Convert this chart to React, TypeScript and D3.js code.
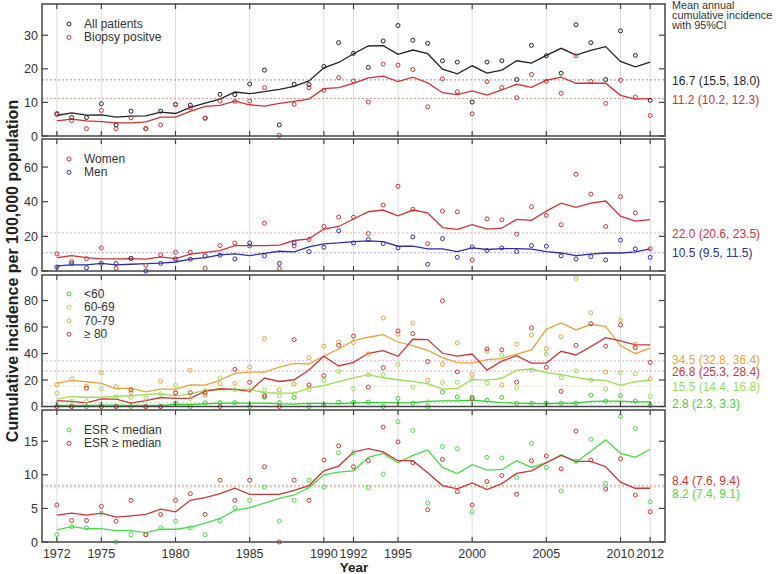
import * as d3 from 'd3'

// years 1972–2012
const years = [1972, 1973, 1974, 1975, 1976, 1977, 1978, 1979, 1980, 1981, 1982, 1983, 1984, 1985, 1986, 1987, 1988, 1989, 1990, 1991, 1992, 1993, 1994, 1995, 1996, 1997, 1998, 1999, 2000, 2001, 2002, 2003, 2004, 2005, 2006, 2007, 2008, 2009, 2010, 2011, 2012]
const yearTicks = [1972, 1975, 1980, 1985, 1990, 1992, 1995, 2000, 2005, 2010, 2012]

// panel 1: all / biopsy positive
const allPts = [6.5, 5.5, 5.5, 9.6, 3.3, 7.4, 2.2, 7.4, 9.4, 9.2, 5.3, 12.4, 12.3, 15.5, 19.6, 3.3, 15.4, 15.3, 20.7, 27.8, 24.6, 20.4, 28.3, 32.9, 28.5, 27.6, 22.4, 22.0, 10.1, 22.0, 22.4, 16.8, 27.0, 23.9, 18.7, 33.1, 27.8, 16.8, 31.3, 24.0, 10.6]
const allLine = [6.1, 6.9, 6.2, 6.3, 5.6, 5.9, 6.0, 7.1, 6.7, 8.5, 9.8, 11.0, 13.1, 12.6, 13.2, 13.9, 14.8, 16.4, 20.3, 21.9, 24.5, 26.8, 26.9, 24.3, 25.6, 24.5, 19.9, 18.5, 20.9, 18.7, 19.6, 22.4, 21.7, 24.0, 26.1, 24.1, 25.5, 26.6, 22.2, 20.6, 22.0]
const bioPts = [6.7, 4.6, 2.2, 7.6, 2.2, 5.4, 2.2, 3.3, 9.4, 8.4, 5.3, 10.4, 10.3, 10.4, 14.4, 0.2, 9.4, 14.4, 13.6, 17.4, 16.4, 10.1, 21.4, 21.1, 19.8, 8.7, 17.0, 13.2, 6.6, 16.2, 14.4, 11.4, 18.3, 16.3, 12.7, 23.9, 16.3, 9.7, 16.6, 11.6, 6.1]
const bioLine = [4.5, 5.0, 4.5, 4.3, 3.9, 3.9, 4.2, 5.6, 5.6, 7.3, 8.8, 9.1, 10.4, 9.3, 8.9, 9.7, 10.3, 11.0, 14.1, 14.4, 15.7, 17.3, 17.8, 16.2, 17.5, 15.8, 12.9, 12.3, 13.4, 12.2, 13.7, 15.4, 14.5, 16.6, 17.5, 15.7, 15.7, 15.7, 12.1, 11.0, 11.1]

// panel 2: women / men
const womenPts = [9.9, 5.4, 7.1, 13.3, 1.5, 7.3, 3.3, 9.3, 10.8, 10.8, 1.5, 14.7, 16.2, 14.5, 27.6, 1.5, 14.5, 18.2, 25.7, 31.1, 31.1, 21.6, 38.1, 48.9, 35.6, 15.8, 34.6, 34.2, 6.4, 30.1, 29.6, 21.3, 37.1, 32.1, 26.7, 55.8, 44.4, 25.7, 42.9, 33.6, 12.8]
const womenLine = [7.7, 8.9, 7.7, 7.0, 7.0, 7.1, 6.8, 8.1, 7.1, 9.7, 10.8, 11.8, 14.7, 14.7, 14.7, 14.9, 17.6, 18.6, 24.2, 25.7, 30.0, 34.2, 35.2, 31.9, 35.2, 33.6, 25.1, 24.0, 26.7, 24.2, 24.7, 29.8, 29.2, 34.6, 39.2, 36.7, 39.2, 40.4, 31.7, 28.8, 29.6]
const menPts = [2.3, 4.3, 1.9, 4.4, 4.3, 7.3, 0, 4.4, 7.0, 6.8, 8.7, 9.1, 7.0, 16.2, 8.7, 4.4, 16.2, 11.2, 13.7, 23.2, 16.2, 18.2, 15.8, 13.3, 19.7, 3.9, 18.7, 7.9, 13.9, 11.8, 13.3, 11.2, 14.7, 14.3, 8.7, 7.0, 8.3, 6.4, 17.8, 12.8, 7.9]
const menLine = [2.9, 3.5, 3.5, 4.4, 3.5, 3.9, 4.3, 4.6, 5.2, 6.8, 7.7, 9.3, 9.9, 8.9, 10.2, 11.4, 11.0, 13.9, 15.7, 16.2, 17.0, 17.4, 17.0, 14.3, 14.3, 12.8, 12.8, 11.2, 13.3, 12.4, 12.9, 12.9, 12.6, 11.2, 10.4, 8.9, 9.7, 10.4, 10.4, 11.0, 12.8]

// panel 3: age groups
const u60Pts = [0, 0, 0, 0, 0, 0, 0, 0, 2.5, 0, 2.7, 2.9, 2.9, 0, 7.0, 3.0, 6.8, 0, 1.0, 3.3, 3.3, 3.3, 0, 6.1, 2.5, 0, 10.8, 7.2, 7.0, 4.8, 6.8, 2.4, 2.5, 2.5, 2.5, 2.5, 8.6, 4.1, 8.2, 4.1, 0.8]
const u60Line = [0.8, 0.8, 0.8, 1.0, 1.0, 0.8, 0.8, 0.8, 1.5, 1.5, 2.0, 2.5, 2.5, 2.5, 2.5, 2.0, 1.8, 2.3, 2.3, 2.0, 2.8, 3.0, 3.0, 2.8, 3.0, 3.8, 4.3, 4.3, 4.8, 3.8, 3.0, 2.5, 2.3, 2.0, 2.5, 2.5, 3.8, 4.0, 4.0, 3.5, 3.5]
const a60Pts = [10, 4, 3.8, 13.4, 7.5, 7, 6.5, 9.6, 15.9, 6, 12, 21.6, 12.6, 12, 12.4, 8, 9.4, 12.6, 19.7, 26.8, 13.4, 24.0, 24.1, 31.8, 14.6, 3.5, 18.2, 18.3, 21, 17.8, 38.8, 13.9, 27.5, 39.6, 21.7, 27.0, 20, 13.2, 25.5, 24.7, 7.6]
const a60Line = [5.6, 7.6, 6.8, 7.1, 7.6, 8.1, 9.1, 9.6, 8.1, 9.6, 12.4, 12.6, 12.9, 12.9, 10.4, 10.1, 10.1, 13.9, 15.7, 18.7, 21.7, 24.0, 21.7, 20.2, 18.9, 17.2, 13.1, 13.6, 20.5, 19.9, 21.2, 27.5, 28.3, 25.5, 24.0, 22.0, 20.2, 19.7, 15.9, 18.7, 19.9]
const a70Pts = [16.5, 20.7, 15.4, 25.5, 15, 10.5, 0, 19, 10.3, 27.4, 8.5, 17.2, 17.5, 29.8, 51.3, 12.6, 17, 36.9, 45.5, 48.7, 48.3, 39.7, 66.8, 54.6, 63.1, 19.8, 31.8, 48, 24.2, 41.7, 16.4, 47.0, 54.0, 43.7, 52.8, 96.7, 70.7, 26.0, 65.1, 47.0, 21.0]
const a70Line = [17.4, 19.7, 18.7, 17.4, 13.4, 13.9, 11.1, 13.1, 13.1, 16.4, 16.2, 19.9, 25.0, 26.0, 26.0, 29.8, 32.6, 32.1, 38.1, 43.4, 49.7, 52.3, 54.3, 48.7, 46.0, 42.4, 36.9, 33.1, 32.8, 35.4, 36.1, 39.6, 42.7, 58.3, 63.1, 57.8, 61.9, 60.6, 46.0, 39.9, 44.2]
const a80Pts = [0, 0, 13.8, 0, 0, 12.5, 0, 0, 10.3, 10.5, 10.2, 0, 28, 18.3, 8.1, 0, 50.5, 16.3, 23.3, 46.2, 53.2, 14.6, 29.3, 57.1, 55.1, 34, 79.8, 26.1, 5.9, 43.4, 42.8, 18.4, 59.3, 29.6, 11.4, 46.2, 62.5, 45.5, 61.6, 44.5, 33.3]
const a80Line = [4.5, 3.8, 2.8, 5.8, 5.6, 2.5, 4.5, 6.8, 6.1, 6.1, 11.6, 13.4, 12.9, 11.4, 21.5, 18.9, 20.2, 27.5, 37.9, 30.6, 33.3, 40.2, 42.2, 37.9, 50.8, 50.5, 40.2, 38.1, 39.6, 27.5, 34.3, 38.4, 32.8, 32.8, 41.7, 38.9, 45.2, 52.0, 49.5, 46.5, 46.5]

// panel 4: ESR
const esrLoPts = [1.1, 2.3, 2.1, 4.3, 0, 1.1, 1.1, 2.1, 3.1, 2.1, 1.1, 3.1, 5.1, 6.2, 8.2, 3.1, 6.2, 9.2, 8.2, 13.3, 13.3, 8.1, 10.1, 17.9, 16.6, 5.8, 14.2, 13.9, 4.5, 12.6, 12.5, 9.6, 14.7, 11.1, 7.6, 12.0, 15.3, 8.7, 18.7, 16.9, 6.0]
const esrLoLine = [1.8, 2.3, 2.0, 2.0, 1.7, 1.7, 1.4, 1.9, 1.9, 2.2, 2.8, 3.5, 4.7, 5.1, 5.8, 6.5, 7.0, 8.1, 10.0, 10.4, 10.6, 12.6, 13.2, 11.8, 12.9, 13.7, 11.1, 10.2, 11.5, 10.7, 10.8, 12.1, 11.1, 11.8, 13.0, 11.9, 13.5, 15.2, 13.2, 12.6, 13.8]
const esrHiPts = [5.5, 3.2, 3.2, 5.3, 3.1, 6.2, 1.1, 4.1, 6.2, 7.2, 4.1, 9.2, 6.2, 9.2, 11.2, 0, 9.2, 6.2, 12.2, 14.3, 11.2, 12.1, 17.1, 14.9, 11.8, 4.8, 12.3, 7.5, 5.5, 9.0, 9.9, 7.1, 12.1, 12.8, 10.9, 16.5, 12.2, 7.9, 12.4, 7.0, 4.5]
const esrHiLine = [4.0, 4.3, 4.0, 4.3, 3.7, 3.9, 4.1, 4.9, 4.5, 6.2, 6.6, 7.2, 8.0, 7.1, 7.1, 7.1, 7.7, 8.4, 10.6, 11.3, 13.4, 13.9, 13.4, 12.1, 12.1, 10.3, 8.4, 7.9, 8.8, 7.8, 8.7, 10.2, 10.6, 11.8, 12.9, 12.0, 12.0, 11.2, 8.9, 8.0, 8.0]

// mean annual incidence (95% CI)
const means1 = [16.7, 11.2]
const means2 = [22.0, 10.5]
const means3 = [34.5, 26.8, 15.5, 2.8]
const means4 = [8.4, 8.2]
const ciText1 = ['16.7 (15.5, 18.0)', '11.2 (10.2, 12.3)']
const ciText2 = ['22.0 (20.6, 23.5)', '10.5 (9.5, 11.5)']
const ciText3 = ['34.5 (32.8, 36.4)', '26.8 (25.3, 28.4)', '15.5 (14.4, 16.8)', '2.8 (2.3, 3.3)']
const ciText4 = ['8.4 (7.6, 9.4)', '8.2 (7.4, 9.1)']
const titleLines = ['Mean annual', 'cumulative incidence', 'with 95%CI']

const W = 778
const H = 574
const X0 = 42
const X1 = 665
const FONT = '"Liberation Sans", Arial, sans-serif'
const TXT = '#333'

const x = d3.scaleLinear().domain([1971, 2013]).range([X0, X1])

interface Series { name: string; color: string; pts: number[]; line: number[] }
interface RefLine { value: number; color: string; label: string; labelY: number; textColor: string }
interface PanelDef {
  top: number; bottom: number; ymax: number; yticks: number[]
  series: Series[]; refs: RefLine[]; legendY: number
}

const panels: PanelDef[] = [
  {
    top: 4, bottom: 136, ymax: 39.3, yticks: [0, 10, 20, 30], legendY: 24,
    series: [
      { name: 'All patients', color: '#222222', pts: allPts, line: allLine },
      { name: 'Biopsy positve', color: '#CC3333', pts: bioPts, line: bioLine },
    ],
    refs: [
      { value: means1[0], color: '#999999', label: ciText1[0], labelY: 81, textColor: '#222' },
      { value: means1[1], color: '#E09090', label: ciText1[1], labelY: 100, textColor: '#CC3333' },
    ],
  },
  {
    top: 139, bottom: 271, ymax: 76.2, yticks: [0, 20, 40, 60], legendY: 159,
    series: [
      { name: 'Women', color: '#CC3333', pts: womenPts, line: womenLine },
      { name: 'Men', color: '#2E2E9E', pts: menPts, line: menLine },
    ],
    refs: [
      { value: means2[0], color: '#E8A8B8', label: ciText2[0], labelY: 234, textColor: '#CC3333' },
      { value: means2[1], color: '#A8A8E0', label: ciText2[1], labelY: 253, textColor: '#2E2E9E' },
    ],
  },
  {
    top: 275, bottom: 406.5, ymax: 99.3, yticks: [0, 20, 40, 60, 80], legendY: 294,
    series: [
      { name: '<60', color: '#33CC33', pts: u60Pts, line: u60Line },
      { name: '60-69', color: '#99DD55', pts: a60Pts, line: a60Line },
      { name: '70-79', color: '#E8A33D', pts: a70Pts, line: a70Line },
      { name: '\u2265 80', color: '#C83737', pts: a80Pts, line: a80Line },
    ],
    refs: [
      { value: means3[0], color: '#E8A8C8', label: ciText3[0], labelY: 360, textColor: '#E8A33D' },
      { value: means3[1], color: '#E8A8B0', label: ciText3[1], labelY: 372, textColor: '#C83737' },
      { value: means3[2], color: '#E4E8A0', label: ciText3[2], labelY: 387, textColor: '#99DD55' },
      { value: means3[3], color: '#A8E0A8', label: ciText3[3], labelY: 404, textColor: '#44CC44' },
    ],
  },
  {
    top: 410, bottom: 542, ymax: 19.65, yticks: [0, 5, 10, 15], legendY: 430,
    series: [
      { name: 'ESR < median', color: '#44DD44', pts: esrLoPts, line: esrLoLine },
      { name: 'ESR \u2265 median', color: '#CC3333', pts: esrHiPts, line: esrHiLine },
    ],
    refs: [
      { value: means4[0], color: '#E0B890', label: ciText4[0], labelY: 481, textColor: '#CC3333' },
      { value: means4[1], color: '#E0B890', label: ciText4[1], labelY: 493.5, textColor: '#44DD44' },
    ],
  },
]

function Panel({ p, last }: { p: PanelDef; last: boolean }) {
  const y = d3.scaleLinear().domain([0, p.ymax]).range([p.bottom, p.top])
  const line = d3.line<number>().x((_, i) => x(years[i])).y((d) => y(d))
  return (
    <g>
      {/* vertical grid */}
      {yearTicks.map((t) => (
        <line key={'g' + t} x1={x(t)} x2={x(t)} y1={p.top} y2={p.bottom} stroke="#dcdcdc" strokeWidth={1} />
      ))}
      {/* mean lines */}
      {p.refs.map((r, i) => (
        <line key={'r' + i} x1={X0} x2={X1} y1={y(r.value)} y2={y(r.value)}
          stroke={r.color} strokeWidth={1} strokeDasharray="2,2" />
      ))}
      {/* smoothed lines */}
      {p.series.map((s) => (
        <path key={'l' + s.name} d={line(s.line) ?? ''} fill="none" stroke={s.color} strokeWidth={1.3} />
      ))}
      {/* points */}
      {p.series.map((s) => (
        <g key={'p' + s.name}>
          {s.pts.map((v, i) => (
            <circle key={i} cx={x(years[i])} cy={y(v)} r={2} fill="none" stroke={s.color} strokeWidth={1} />
          ))}
        </g>
      ))}
      {/* legend */}
      {p.series.map((s, i) => (
        <g key={'lg' + s.name} transform={`translate(69,${p.legendY + i * 13.4})`}>
          <circle r={2} fill="none" stroke={s.color} strokeWidth={1} />
          <text x={15} y={4} fontSize={12} fill={TXT} fontFamily={FONT}>{s.name}</text>
        </g>
      ))}
      {/* frame */}
      <rect x={X0} y={p.top} width={X1 - X0} height={p.bottom - p.top} fill="none" stroke="#444" strokeWidth={1.5} />
      {/* x ticks */}
      {yearTicks.map((t) => (
        <g key={'xt' + t}>
          <line x1={x(t)} x2={x(t)} y1={p.bottom} y2={p.bottom - 5} stroke="#444" strokeWidth={1.2} />
          <line x1={x(t)} x2={x(t)} y1={p.top} y2={p.top + 5} stroke="#444" strokeWidth={1.2} />
        </g>
      ))}
      {/* y ticks */}
      {p.yticks.map((t) => (
        <g key={'yt' + t}>
          <line x1={X0} x2={X0 + 6} y1={y(t)} y2={y(t)} stroke="#444" strokeWidth={1.2} />
          <line x1={X1} x2={X1 - 6} y1={y(t)} y2={y(t)} stroke="#444" strokeWidth={1.2} />
          <text x={X0 - 4} y={y(t) + 4.5} textAnchor="end" fontSize={12.5} fill={TXT} fontFamily={FONT}>{t}</text>
        </g>
      ))}
      {/* right labels */}
      {p.refs.map((r, i) => (
        <text key={'rl' + i} x={672} y={r.labelY + 4.3} fontSize={12} fill={r.textColor} fontFamily={FONT}>{r.label}</text>
      ))}
      {last && yearTicks.map((t) => (
        <text key={'xl' + t} x={x(t)} y={558} textAnchor="middle" fontSize={12.5} fill={TXT} fontFamily={FONT}>{t}</text>
      ))}
    </g>
  )
}

export default function App() {
  return (
    <svg width={W} height={H} style={{ position: 'absolute', left: 0, top: 0, background: '#fff' }}>
      <rect width={W} height={H} fill="#fff" />
      {panels.map((p, i) => (
        <Panel key={i} p={p} last={i === panels.length - 1} />
      ))}
      {titleLines.map((t, i) => (
        <text key={t} x={672} y={9 + i * 10} fontFamily={FONT} fontSize={10.8} fill={TXT}>{t}</text>
      ))}
      <text x={354} y={572} textAnchor="middle" fontSize={13.5} fontWeight="bold" fill="#222" fontFamily={FONT}>Year</text>
      <text transform="translate(18,271) rotate(-90)" textAnchor="middle" fontSize={16} fontWeight="bold" fill="#222" fontFamily={FONT}>
        Cumulative incidence per 100,000 population
      </text>
    </svg>
  )
}
